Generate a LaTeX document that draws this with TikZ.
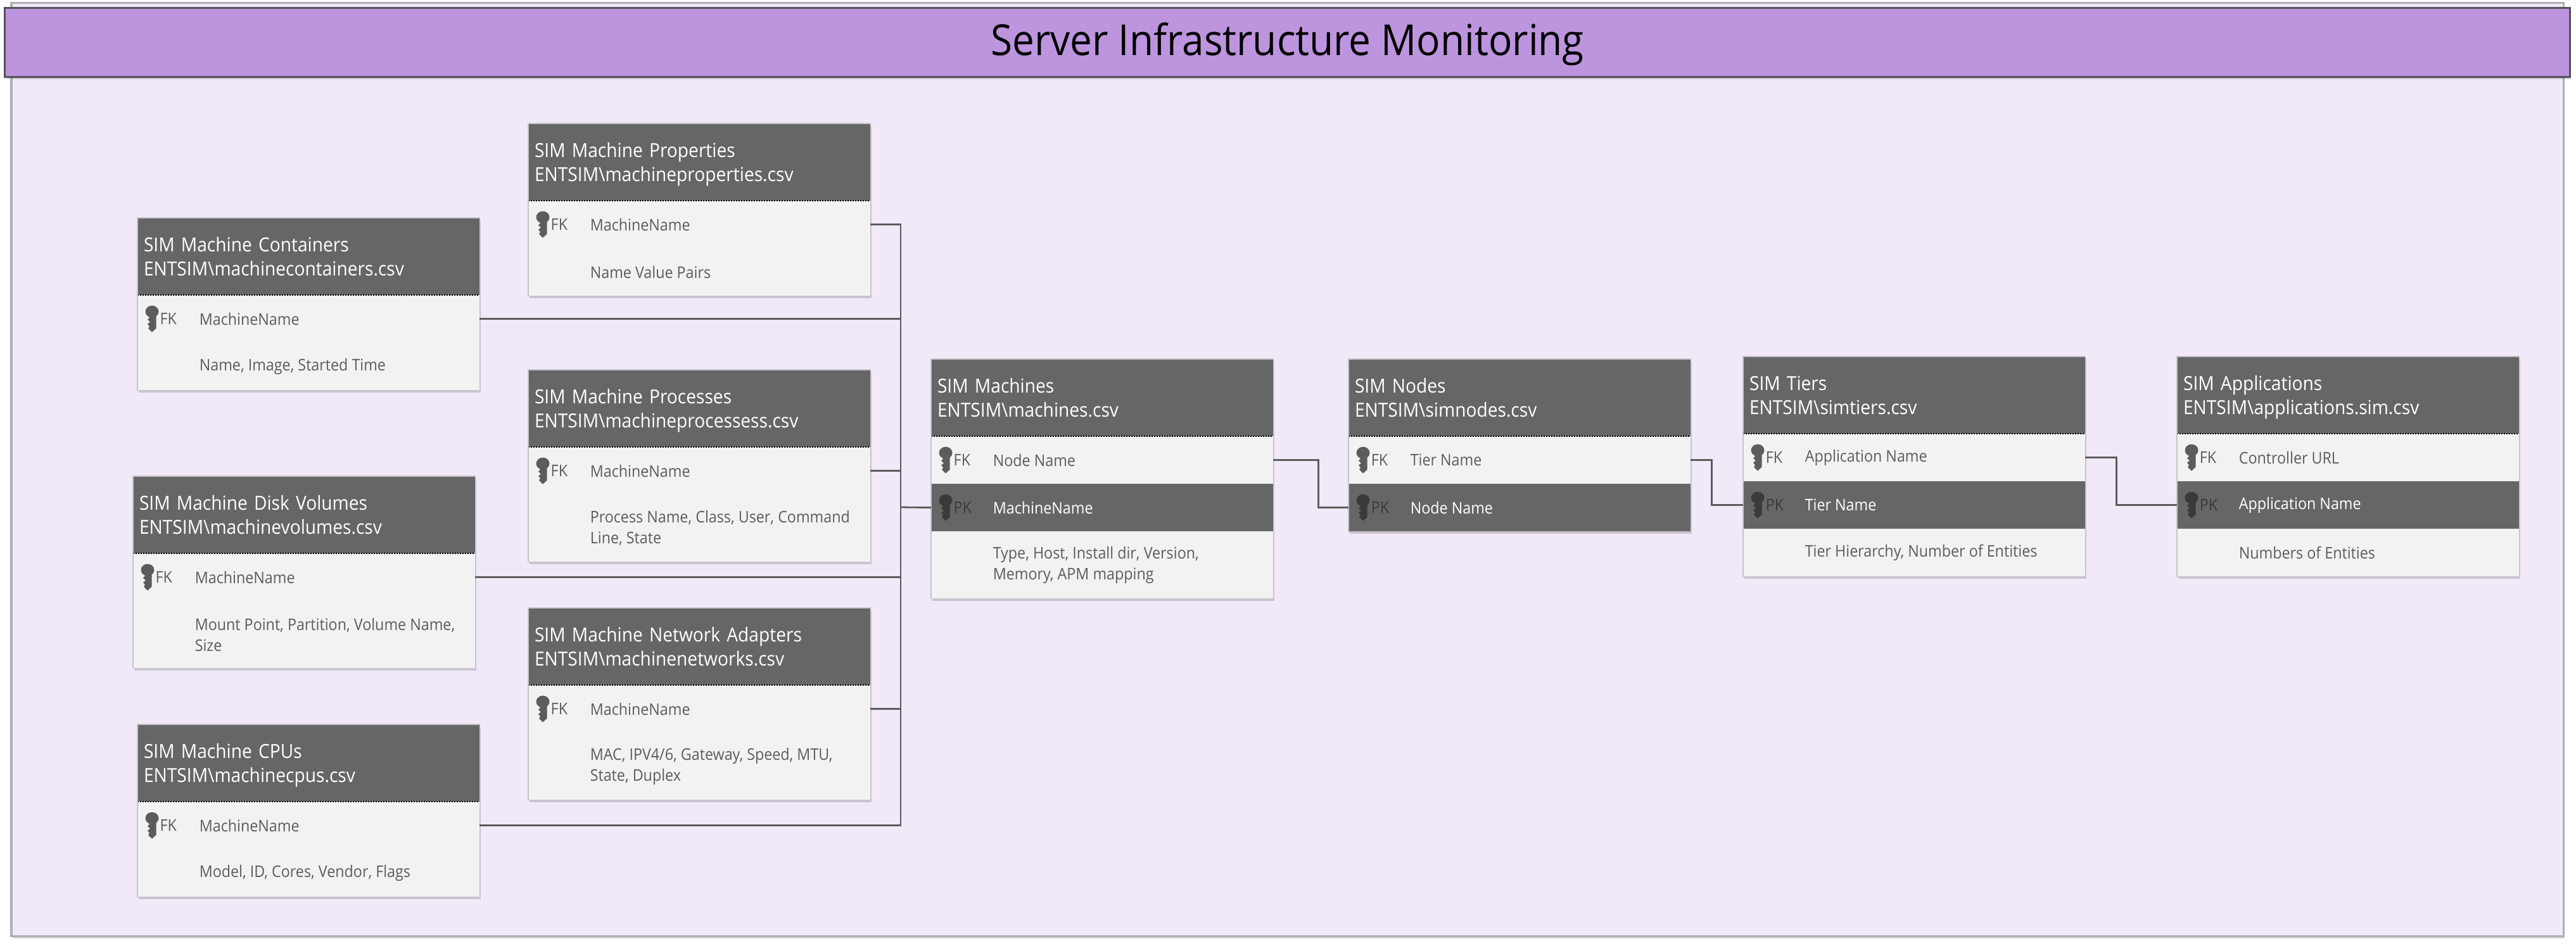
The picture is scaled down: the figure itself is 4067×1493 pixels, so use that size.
\documentclass[tikz,border=0pt]{standalone}
\usepackage{fontspec}
\setmainfont[FakeStretch=0.92]{Open Sans}
\usepackage{tikz}
\usetikzlibrary{positioning,shadows}
\definecolor{paneback}{HTML}{F1E9F8}
\definecolor{paneline}{HTML}{B0AEB3}
\definecolor{titleback}{HTML}{BD95DF}
\definecolor{titleline}{HTML}{54505A}
\definecolor{headback}{HTML}{666666}
\definecolor{cellback}{HTML}{F2F2F2}
\definecolor{celledge}{HTML}{C6C4CA}
\definecolor{celltext}{HTML}{5C5C5C}
\definecolor{darkkey}{HTML}{3A3A3A}
\tikzset{
	softshadow/.style={drop shadow={shadow xshift=0.02cm, shadow yshift=-0.035cm, opacity=0.16, fill=black}},
	panebox/.style={fill=paneback, draw=paneline, line width=0.03cm, softshadow},
	titlebar/.style={fill=titleback, draw=titleline, line width=0.03cm, softshadow, minimum width=40.47cm, minimum height=1.08cm, inner sep=0, outer sep=0, font=\fontsize{19.2}{22}\selectfont},
	headcell/.style={anchor=north west, fill=headback, softshadow, text=white, minimum width=5.4cm, minimum height=1.22cm, text width=5.2cm, inner xsep=0.1cm, inner ysep=0, outer sep=0, align=left, font=\fontsize{8.7}{10.8}\selectfont},
	bodycell/.style={fill=cellback, softshadow, minimum width=5.4cm, minimum height=0.75cm, inner sep=0, outer sep=0},
	pkcell/.style={bodycell, fill=headback},
	celltag/.style={anchor=west, inner sep=0, text=celltext, font=\fontsize{7.2}{9.35}\selectfont},
	celltxt/.style={celltag, align=left},
	headrule/.style={line width=0.025cm, dash pattern=on 0.02cm off 0.02cm},
	tableedge/.style={draw=celledge, line width=0.012cm},
	link/.style={draw=celltext, line width=0.028cm},
	keyicon/.pic={
		\fill[pic actions] (0,-11.5) ellipse [x radius=10.5, y radius=9.5];
		\fill[pic actions] (-6,-6) -- (6.5,-6) -- (6.5,15) -- (0,21) -- (-6,15) -- (-4,12) -- (-7,8) -- (-3,5) -- (-7,1) -- (-4,-2) -- cycle;
	}
}
% table head, then its rows
\newcommand{\simhead}[5]{
	\node[headcell] (#1) at (#2,#3) {#4\\\smash{#5}};
}
\newcommand{\fkrow}[2]{
	\node[bodycell, below=0pt of #1] (#1-fk) {};
	\draw[headrule] (#1.south west) -- (#1.south east);
	\pic[fill=celltext] at ([xshift=0.23cm]#1-fk.west) {keyicon};
	\node[celltag, right=0.35cm of #1-fk.west] (#1-fktag) {FK};
	\node[celltxt, right=0.97cm of #1-fk.west] (#1-fkname) {#2};
}
\newcommand{\pkrow}[2]{
	\node[pkcell, below=0pt of #1-fk] (#1-pk) {};
	\pic[fill=darkkey] at ([xshift=0.23cm]#1-pk.west) {keyicon};
	\node[celltag, text=darkkey, right=0.35cm of #1-pk.west] (#1-pktag) {PK};
	\node[celltxt, text=white, right=0.97cm of #1-pk.west] (#1-pkname) {#2};
}
\newcommand{\restrow}[4]{
	\node[bodycell, minimum height=#3, below=0pt of #2] (#1-rest) {};
	\node[celltxt, right=0.97cm of #1-rest.west] (#1-resttxt) {#4};
}
\begin{document}
\begin{tikzpicture}[x=0.01cm, y=-0.01cm]
	\useasboundingbox (0,0) rectangle (4067,1493);

	%%%%% PANEL %%%%%
	\draw[panebox] (18,4) rectangle (4047,1478);
	\node[titlebar, text depth=0.1cm] (title) at (2032.5,67) {Server Infrastructure Monitoring};

	%%%%% LEFT TABLES %%%%%
	\simhead{props}{834}{195}{SIM Machine Properties}{ENTSIM\textbackslash machineproperties.csv}
	\fkrow{props}{MachineName}
	\restrow{props}{props-fk}{0.75cm}{Name Value Pairs}

	\simhead{containers}{217}{344}{SIM Machine Containers}{ENTSIM\textbackslash machinecontainers.csv}
	\fkrow{containers}{MachineName}
	\restrow{containers}{containers-fk}{0.75cm}{Name, Image, Started Time}

	\simhead{processes}{834}{584}{SIM Machine Processes}{ENTSIM\textbackslash machineprocessess.csv}
	\fkrow{processes}{MachineName}
	\restrow{processes}{processes-fk}{1.06cm}{Process Name, Class, User, Command\\Line, State}

	\simhead{volumes}{210}{752}{SIM Machine Disk Volumes}{ENTSIM\textbackslash machinevolumes.csv}
	\fkrow{volumes}{MachineName}
	\restrow{volumes}{volumes-fk}{1.06cm}{Mount Point, Partition, Volume Name,\\Size}

	\simhead{networks}{834}{960}{SIM Machine Network Adapters}{ENTSIM\textbackslash machinenetworks.csv}
	\fkrow{networks}{MachineName}
	\restrow{networks}{networks-fk}{1.06cm}{MAC, IPV4/6, Gateway, Speed, MTU,\\State, Duplex}

	\simhead{cpus}{217}{1144}{SIM Machine CPUs}{ENTSIM\textbackslash machinecpus.csv}
	\fkrow{cpus}{MachineName}
	\restrow{cpus}{cpus-fk}{0.75cm}{Model, ID, Cores, Vendor, Flags}

	%%%%% MAIN CHAIN %%%%%
	\simhead{machines}{1470}{567}{SIM Machines}{ENTSIM\textbackslash machines.csv}
	\fkrow{machines}{Node Name}
	\pkrow{machines}{MachineName}
	\restrow{machines}{machines-pk}{1.06cm}{Type, Host, Install dir, Version,\\Memory, APM mapping}

	\simhead{simnodes}{2129}{567}{SIM Nodes}{ENTSIM\textbackslash simnodes.csv}
	\fkrow{simnodes}{Tier Name}
	\pkrow{simnodes}{Node Name}

	\simhead{tiers}{2752}{563}{SIM Tiers}{ENTSIM\textbackslash simtiers.csv}
	\fkrow{tiers}{Application Name}
	\pkrow{tiers}{Tier Name}
	\restrow{tiers}{tiers-pk}{0.75cm}{Tier Hierarchy, Number of Entities}

	\simhead{apps}{3437}{563}{SIM Applications}{ENTSIM\textbackslash applications.sim.csv}
	\fkrow{apps}{Controller URL}
	\pkrow{apps}{Application Name}
	\restrow{apps}{apps-pk}{0.75cm}{Numbers of Entities}

	%%%%% EDGES %%%%%
	\foreach \tbl/\lastrow in {props/rest,containers/rest,processes/rest,volumes/rest,networks/rest,cpus/rest,machines/rest,simnodes/pk,tiers/rest,apps/rest}
		\draw[tableedge] (\tbl.north west) rectangle (\tbl-\lastrow.south east);

	%%%%% CONNECTORS %%%%%
	\coordinate (bus) at (1422,801);
	\draw[link] (props-fk.east) -- (props-fk -| bus) -- (cpus-fk -| bus) -- (cpus-fk.east);
	\foreach \tbl in {containers,processes,volumes,networks}
		\draw[link] (\tbl-fk.east) -- (\tbl-fk -| bus);
	\draw[link] (bus) -- (machines-pk.west);
	\draw[link] (machines-fk.east) -- ++(71,0) |- (simnodes-pk.west);
	\draw[link] (simnodes-fk.east) -- ++(33,0) |- (tiers-pk.west);
	\draw[link] (tiers-fk.east) -- ++(49,0) |- (apps-pk.west);
\end{tikzpicture}
\end{document}
